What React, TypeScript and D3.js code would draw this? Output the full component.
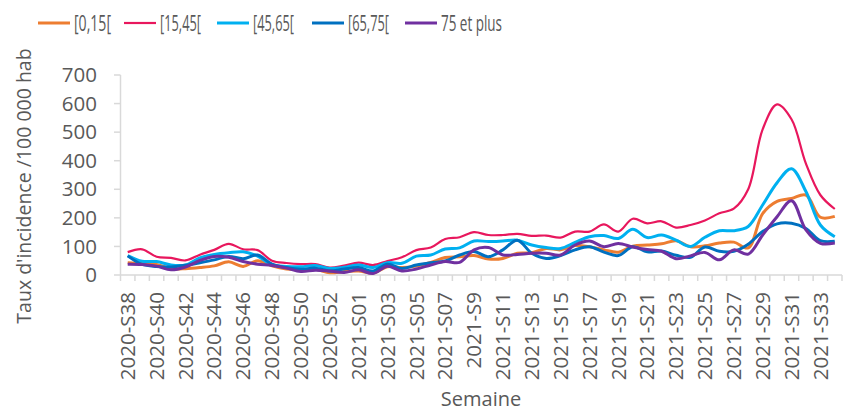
import React, { useEffect, useRef } from 'react';
import * as d3 from 'd3';

// semaines (une étiquette sur deux est affichée)
const weeks = [
    '2020-S38', '2020-S39', '2020-S40', '2020-S41', '2020-S42', '2020-S43', '2020-S44', '2020-S45',
    '2020-S46', '2020-S47', '2020-S48', '2020-S49', '2020-S50', '2020-S51', '2020-S52', '2020-S53',
    '2021-S01', '2021-S02', '2021-S03', '2021-S04', '2021-S05', '2021-S06', '2021-S07', '2021-S08',
    '2021-S9', '2021-S10', '2021-S11', '2021-S12', '2021-S13', '2021-S14', '2021-S15', '2021-S16',
    '2021-S17', '2021-S18', '2021-S19', '2021-S20', '2021-S21', '2021-S22', '2021-S23', '2021-S24',
    '2021-S25', '2021-S26', '2021-S27', '2021-S28', '2021-S29', '2021-S30', '2021-S31', '2021-S32',
    '2021-S33', '2021-S34',
];

const age0to15 = [
    43, 40, 37, 22, 22, 26, 32, 46, 30, 50, 32, 21, 18, 20, 8, 12, 14, 7, 29, 26, 31, 44, 61, 64, 68,
    56, 58, 76, 78, 93, 88, 103, 99, 88, 80, 101, 105, 109, 120, 99, 102, 112, 115, 95, 215, 258, 268,
    280, 202, 205,
];
const age15to45 = [
    80, 90, 64, 60, 51, 71, 88, 109, 90, 87, 50, 42, 38, 38, 26, 33, 43, 35, 49, 62, 87, 96, 126, 132,
    150, 140, 140, 144, 137, 138, 131, 152, 152, 177, 152, 197, 181, 188, 166, 175, 191, 216, 232, 300,
    510, 597, 545, 390, 280, 231,
];
const age45to65 = [
    68, 48, 47, 35, 35, 60, 72, 78, 81, 66, 36, 30, 29, 33, 23, 27, 35, 26, 43, 41, 66, 70, 91, 95, 119,
    117, 119, 122, 105, 96, 93, 114, 134, 138, 128, 160, 131, 140, 122, 100, 132, 155, 155, 170, 245,
    323, 372, 292, 175, 134,
];
const age65to75 = [
    67, 37, 30, 28, 34, 43, 53, 65, 57, 70, 38, 26, 20, 24, 14, 21, 26, 14, 38, 23, 35, 43, 49, 70, 82,
    64, 88, 122, 76, 58, 68, 88, 99, 80, 68, 99, 81, 84, 69, 62, 98, 83, 83, 108, 152, 179, 181, 163,
    120, 118,
];
const age75plus = [
    38, 37, 31, 18, 28, 51, 65, 62, 47, 38, 33, 24, 12, 17, 14, 9, 18, 5, 31, 14, 21, 35, 47, 44, 88,
    96, 70, 72, 76, 76, 70, 105, 119, 99, 110, 98, 89, 83, 57, 67, 79, 53, 88, 73, 140, 204, 260, 158,
    111, 112,
];

const yTicks = [0, 100, 200, 300, 400, 500, 600, 700];

const series = [
    { name: '[0,15[', color: '#ED7D31', width: 3, values: age0to15, legendX: 38, textW: 37 },
    { name: '[15,45[', color: '#E8175D', width: 2.2, values: age15to45, legendX: 124, textW: 41 },
    { name: '[45,65[', color: '#00B0F0', width: 3, values: age45to65, legendX: 217, textW: 41 },
    { name: '[65,75[', color: '#0070C0', width: 3, values: age65to75, legendX: 312, textW: 41 },
    { name: '75 et plus', color: '#7030A0', width: 3, values: age75plus, legendX: 405, textW: 61 },
];

const textColor = '#595959';
const axisColor = '#D9D9D9';

const App = () => {
    const ref = useRef<SVGSVGElement>(null);

    useEffect(() => {
        const svg = d3.select(ref.current);
        svg.selectAll('*').remove();

        const x = d3.scaleBand().domain(weeks).range([120.5, 842]);
        const y = d3.scaleLinear().domain([0, 700]).range([275, 75]);
        const bw = x.bandwidth();
        const cx = (w: string) => (x(w) as number) + bw / 2;

        // axe Y
        svg.append('line')
            .attr('x1', 120.5).attr('x2', 120.5)
            .attr('y1', y(700)).attr('y2', y(0))
            .attr('stroke', axisColor).attr('stroke-width', 1.5);
        svg.append('g')
            .selectAll('line')
            .data(yTicks)
            .enter()
            .append('line')
            .attr('x1', 114).attr('x2', 120.5)
            .attr('y1', d => y(d)).attr('y2', d => y(d))
            .attr('stroke', axisColor).attr('stroke-width', 1.5);
        svg.append('g')
            .selectAll('text')
            .data(yTicks)
            .enter()
            .append('text')
            .attr('x', 97)
            .attr('y', d => y(d))
            .attr('dy', '0.35em')
            .attr('text-anchor', 'end')
            .attr('fill', textColor)
            .style('font-size', '20.5px')
            .text(d => d);

        // axe X
        svg.append('line')
            .attr('x1', 120.5).attr('x2', 842)
            .attr('y1', y(0)).attr('y2', y(0))
            .attr('stroke', axisColor).attr('stroke-width', 1.5);
        svg.append('g')
            .selectAll('line')
            .data(d3.range(weeks.length + 1))
            .enter()
            .append('line')
            .attr('x1', i => 120.5 + i * x.step()).attr('x2', i => 120.5 + i * x.step())
            .attr('y1', y(0)).attr('y2', y(0) + 6)
            .attr('stroke', axisColor).attr('stroke-width', 1.5);
        svg.append('g')
            .selectAll('text')
            .data(weeks.filter((_, i) => i % 2 === 0))
            .enter()
            .append('text')
            .attr('transform', d => `translate(${cx(d)},292) rotate(-90)`)
            .attr('dy', '0.35em')
            .attr('text-anchor', 'end')
            .attr('fill', textColor)
            .style('font-size', '20.5px')
            .text(d => d);

        // courbes
        const line = d3
            .line<number>()
            .x((_, i) => cx(weeks[i]))
            .y(d => y(d))
            .curve(d3.curveCatmullRom.alpha(0.5));
        svg.append('g')
            .selectAll('path')
            .data(series)
            .enter()
            .append('path')
            .attr('d', d => line(d.values))
            .attr('fill', 'none')
            .attr('stroke', d => d.color)
            .attr('stroke-width', d => d.width)
            .attr('stroke-linejoin', 'round');

        // légende
        const leg = svg.append('g')
            .selectAll('g')
            .data(series)
            .enter()
            .append('g')
            .attr('transform', d => `translate(${d.legendX},23)`);
        leg.append('line')
            .attr('x1', 0).attr('x2', 32)
            .attr('stroke', d => d.color)
            .attr('stroke-width', d => d.width);
        leg.append('text')
            .attr('x', 36)
            .attr('dy', '0.35em')
            .attr('fill', textColor)
            .attr('textLength', d => d.textW)
            .attr('lengthAdjust', 'spacingAndGlyphs')
            .style('font-size', '22px')
            .text(d => d.name);

        // titres
        svg.append('text')
            .attr('transform', 'translate(24,186) rotate(-90)')
            .attr('dy', '0.35em')
            .attr('text-anchor', 'middle')
            .attr('fill', textColor)
            .style('font-size', '19.5px')
            .text("Taux d'incidence /100 000 hab");
        svg.append('text')
            .attr('x', 481)
            .attr('y', 406)
            .attr('text-anchor', 'middle')
            .attr('fill', textColor)
            .style('font-size', '20px')
            .text('Semaine');
    }, []);

    return (
        <svg
            ref={ref}
            width={846}
            height={414}
            style={{ position: 'absolute', left: 0, top: 0, fontFamily: '"Open Sans", sans-serif', background: '#fff' }}
        />
    );
};

export default App;
